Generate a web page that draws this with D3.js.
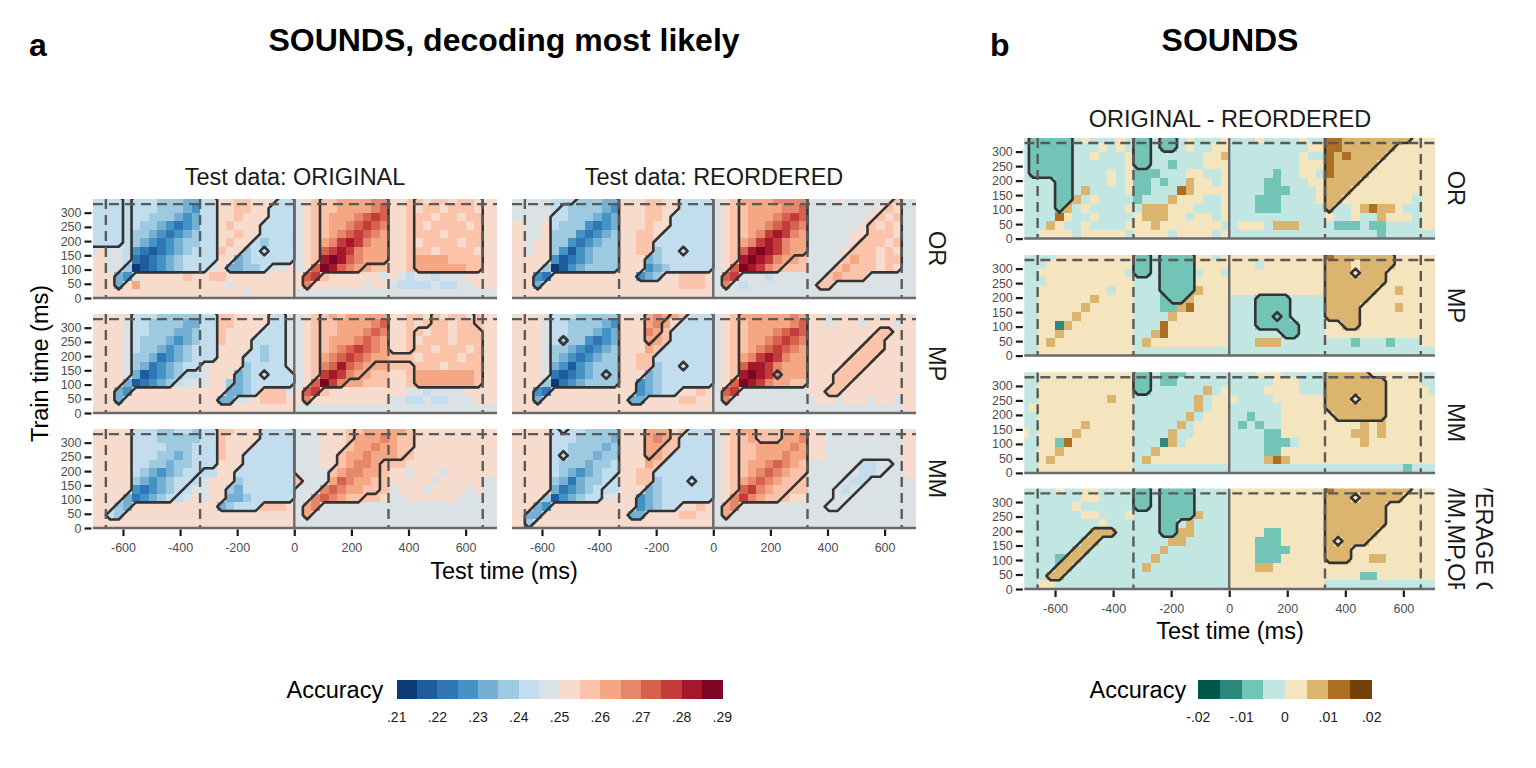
<!DOCTYPE html>
<html>
<head>
<meta charset="utf-8">
<title>SOUNDS, decoding most likely</title>
<script src="https://cdn.jsdelivr.net/npm/d3@7"></script>
<style>
  body { margin: 0; background: #fff; }
</style>
</head>
<body>
<div id="chart"></div>
<script>
(function(d3) {

// Temporal generalisation grids.
// Columns: 30 ms test-time bins from -720 ms; rows: 30 ms train-time bins,
// first string = 330-360 ms, last string = 0-30 ms.
// Letter = colour bin of the legend (a = lowest), capital = inside significance contour.
// "|" only splits pre | tone 1 | tone 2 | tone 3 | tone 4 | post for reading.
var gridStartMs = -720;
var gridTopMs = 360;
var binMs = 30;

var origOR = [
  "GG|GGgGGGFFFEE|GGiijjiiiGG|hijJJKKKKLL|iijJIJJIJJI|ii",
  "GG|GGgGGGFFFED|GGiijjiiGGG|hijJJKKKKLM|iijIJJIJJJI|ii",
  "GG|GGgGGFFFEDE|GGiijiiiGGG|hijJKKKLMNM|iijJJIJJIJJ|ii",
  "GG|GGgGFFEDCDE|GGijiiiGGGG|hijJKKLMNML|iijJIJJJJIJ|ii",
  "GG|GGgFFEDCDEF|GGiijiiGGGG|hijJKLMNMLK|iijJJJIJJJJ|ii",
  "GG|GGgFEDCDEFF|GGijiiGFGGG|hijKLNONLKK|iijIJJJJIJJ|ii",
  "hi|hhgDCBCDEFG|GGjiiFGgGGG|hijMNONLKKK|iijJJIJJJJI|ii",
  "ii|hhgCBCDEFGG|GGiiEFGGGGG|hijOPOMLKKK|iijKKKKJJJJ|ii",
  "ii|hhFABCDEFGG|GhiEEFFGhhi|hiMPOMLKkjj|iijKKKKKKJJ|ii",
  "ii|iEDhiiiiiji|ijjiiiiiiii|iMNjiiiiiih|ihghhghhhii|ii",
  "ii|iEikiiiiiii|iiihiiiiiii|iLiiiiiihii|hgggghgghhi|ii",
  "ii|iiiiiiiiiii|iiiiihiiiii|hhhhhhhhhhh|hhhhhhhhhhh|hh"
];
var origMP = [
  "ii|iihGGGFFFFF|GGjjiiiiGGh|hijJKJKKKKK|iijjiJIJJIj|ii",
  "ii|iihGGFFFFEE|GGjjiiiiGGh|hijJJKKKKLM|iijijJJIJJj|ii",
  "ii|iihGGFFFEEF|GGjiiiiGGGh|hijJJKKKLML|iijJIJJIJJJ|ii",
  "ii|iihGFFFEDEF|GGjiiiGGGGh|hijJKKKLMLK|iijIJJJIJJJ|ii",
  "ii|iihGFFEDEFG|GGiiiiGFGGh|hijJKLMNMLK|iijJJIJJJIJ|ii",
  "ii|iihFFECDEFG|GGiiiGGFGGh|hijKLMNMLKK|JJJIJJJJIJJ|ii",
  "ii|iihFECDEFGG|hiiiiFGGGGh|hijLMOMLKkk|jjjJJJIJJJJ|ii",
  "ii|iihEBCDEFgg|hiiiEFGgGGG|hijNONLKkjj|iijKKKKKKKJ|ii",
  "ii|iiEBCDEFghh|hiifEFGGGGG|hiMPNLkkjjj|iijKKKKKKKJ|ii",
  "ii|iEDiiiiiiii|iiiEEFGjjjh|iMNjiiiiiii|iihhghhhhii|ii",
  "ii|iEiiiiiiiii|iiEEhhijjji|iLiiiiiiiii|hhgghgghhhi|ii",
  "hi|iiiiiiiiiii|iiiiiiiiiii|hhhhhhhhhhh|hhhhhhhhhhh|hh"
];
var origMM = [
  "ii|iiiGGGFFGGF|GGjjiiiGGGG|hhhiiijJKKK|KKJiiiiiiii|ii",
  "ii|iiiGGGFFFFF|GGjiiiiGGGG|hhhiiijKKKL|KJJiiiiiiii|ii",
  "ii|iiiGGGGFFFG|GGjiiiGGGGG|hhhiiiJKKLK|KJJiiiiiiii|ii",
  "ii|iiiGGGFFEFG|GGjiiGGGGGG|hhhiiJKKLKK|KJjiiiiiiii|ii",
  "ii|iiiGGFFEFFG|GGiiiGGGGGG|hhhiiJKLLKj|jjiiiiiiiii|ii",
  "ii|iiiGFEDEFGG|ggiiGGGGGGG|hhhhJKLLKKj|iihiiihiiii|ii",
  "ii|iiiFEDEFGGg|hiiiFGGGGGG|JhhhKMLKKJj|iiiiihiiiii|hh",
  "ii|iiiDCDEFGgh|hiiFEGGGGGG|hhhLMLKKJJj|hiiihiiiihi|hh",
  "ii|iiECDEFGghi|hiiEEFGGGGG|hhLMLKJJjji|hhiiiiiihhh|hh",
  "ii|iFEiiiiiiii|iiEFGGGjjji|hKLhhhhhhhh|hhhhhhhhhhh|hh",
  "ii|GFiiiiiiiii|iiiiiiiiiii|hKhhhhhhhhh|hhhhhhhhhhh|hh",
  "ii|iiiiiiiiiii|iiiiiiiiiii|hhhhhhhhhhh|hhhhhhhhhhh|hh"
];
var reordOR = [
  "hh|hhhgggFFFEE|iiijjiiGGGG|hijKKKKLLLL|hhhihhhhhiJ|hh",
  "hh|hhhgGFFFFED|iiijjiiGGGG|hijJKKKKLLM|hhhhhhhhiJI|hh",
  "hh|hhhGGFFFEDE|iiijjiGGGGG|hijJKKKLMNM|hhhhhhhiJIJ|hh",
  "ii|hhiGFFFDCDE|iiijiiGGGGG|hijJKKLMNML|hhhhhhiJIJI|hh",
  "ii|hhiFFFDCDEF|iijjiGGGGGG|hijJKLNONLK|hhhhhiiJJJI|hh",
  "ii|hiiFFDCDEFF|iijjGGGGGGG|hijKLNONLKK|hhhhhiJJJIJ|hh",
  "ii|hiiFDBDEFFF|iijjFGGgGGG|hijMOPONLKK|hhhhiJJJIJI|hh",
  "ii|iiiDBCDEFFF|iiiEFGGGGGG|hijOPONLKkj|hhhhJKJJIJJ|hh",
  "ii|iiFABDEFFFF|iiiDEFGGGGG|hiMPONLKjjj|hhhJKJJJIJI|hh",
  "ii|iDCiiiiiiii|iiDEFiijjji|hMNhhhghhhh|hhJKJJJhhhh|hh",
  "ii|iEiiiiiiiii|iiiiiiijjji|hLhghhhhhhh|hJJhhhhhhhh|hh",
  "ii|iiiiiiiiiii|iiiiiiiiiii|hhhhhhhhhhh|hhhhhhhhhhh|hh"
];
var reordMP = [
  "hi|iihGGGFFFFF|iiiKLKkjGGG|hijKKKKKKLK|iihiiiiihii|ii",
  "ii|iihGGFFFFED|iiiKLkiGGGG|hijJKKKKKLM|iihiiihiiih|ii",
  "ii|iihGGFFFEDE|iiiLKjGGGGG|hijJKKKLMNM|iiiiiiiiJJi|ii",
  "ii|iihGfFFDCDE|iiiKkjGGGGG|hijJKKLMNML|iiiiiiiJJii|ii",
  "ii|iihFFEDCDEF|iiikjGGGGGG|hijJKLMNMLK|iiiiiiJJJii|ii",
  "ii|iihFEDCDEFF|iijjGGGGGGG|hijKLNONLKK|iiiiiJJJiii|ii",
  "ii|iihEDBDEFFF|iijjFGGgGGG|hijMOONLKKK|iiiiJJJiiii|ii",
  "ii|iihCBCDEFfF|iiiEFGGGGGG|hijOPONlKKK|iiiJJJiiiii|ii",
  "ii|iiFACDEFFFF|iiDEFGGGGGG|hiMPONLKKJJ|iiiJJiiiiii|ii",
  "ii|iDCiiiiiiii|iiDEFGGiiji|hMNhhhhhhhh|iiJJiiiiiii|ii",
  "ii|iEiiiiiiiii|iEEiiiijjii|hLhhhhhhhhh|hiihiiihiih|ii",
  "ii|iiiiiiiiiii|iiiiiiiiiii|hhhhhhhhhhh|hhhhhhhhhhh|ii"
];
var reordMM = [
  "ii|iiiGgGGFFFF|iiiKKKijGGG|hijKKjjjKKK|iihhhhhihhh|ii",
  "ii|iiiGGGFFFFE|iiiKLKjGGGG|hijJKjjjKKL|iihhhhhhhhh|ii",
  "ii|iiiGGFFFFEF|iiiKKjjGGGG|hijJJKKKKLK|iihhhhhhhhh|ii",
  "ii|iiiGgFFFEFF|iiiKkjGGGGG|hijJJKKKLKK|iihhhhhhhhh|ii",
  "ii|iiiGFFFEFFG|iiikjGGGGGG|hijJKKLMLKJ|hhhhhhGGHHh|ii",
  "ii|iiiGFEDEFGG|iijjGGGGGGG|hijJKLMLKJJ|hhhhhHGGHhh|ii",
  "ii|iiiFECEFFGg|iijjFGGGgGG|hijKLMLKJJj|hhhhHGGhhhh|hh",
  "ii|iiiECDEFGgg|iiiEFGGGGGG|hijMNLKJJjj|hhhHGHhhhhh|hh",
  "ii|iiFBDEFGGhi|iiDEFGGGGGG|hiLNLKJJjii|hhhHHhhhhhh|hh",
  "ii|iEDiiiiiiii|iiDEFGGiiji|hKLhhhhhhhh|hhHHhhhhhhh|hh",
  "ii|EEiiiiiiiii|iEEiiiijjii|hKhhhhhhhhh|hhhhhhhhhhh|hh",
  "ii|Fiiiiiiiiii|iiiiiiiiiii|hhhhhhhhhhh|hhhhhhhhhhh|hh"
];

// ORIGINAL - REORDERED
var diffOR = [
  "dC|CCCCdeddded|CCdCCdeddde|dddeddddedd|GGFFFFFFFFe|ee",
  "dC|CCCCdddeded|CCdCCdeddee|dddddddddee|GGFFFFFFeee|ee",
  "dC|CCCCddeddde|CCddddddeef|ddddddddedd|GFGFFFFeeee|ee",
  "dC|CCCCdddddde|CCddcdddeee|ddddddddeee|GFFFFFeeeee|ee",
  "dC|CCCCddddede|cccdddeedde|dddddcddeed|GFFFFeeeeee|ee",
  "dd|ddCCddddede|ccdcddfeede|ddddccdddee|FFFFeeeeeee|ee",
  "dd|ddCCdfdddde|ccdddgfeeee|ddddcccddde|FFFeeeeeeee|ee",
  "dd|ddCCfdedddd|cdddfeeedde|dddcccdddde|FFeeeeeeeed|ee",
  "dd|ddCfdedddde|dfffeeeddde|dddcccddddd|Fddefgffedd|ee",
  "dd|ddgeddedddd|efffeedeede|ddddddddddd|eddeddfeeed|ee",
  "dd|dfeddedddde|eefeeeeeeed|deeedfffddd|dcccdccdddd|ee",
  "dd|eeeedeeeeed|eeeedeeeede|ddddddddddd|ddddddcdddd|dd"
];
var diffMP = [
  "dd|ddeeeeeeeee|CCdCCCCeede|eeeeeeeeeee|GFFFFFFFeee|ee",
  "dd|deeeeeeeeee|CCdCCCCeeee|eeedeeeeeee|FFFEFFFFeee|ee",
  "dd|eeeeeeeeeed|CCdCCCCdeed|eeeeeeeeeee|FFFeFFFeeee|ee",
  "dd|deeeeeeeeee|dddCCCCeeee|eeeeeeeeeee|FFFFFFFeeee|ee",
  "dd|eeeeeeeedee|dddCCCCfeee|eeeeeeeeeee|FFFFFFeefee|ee",
  "dd|eeeeeefeeee|dddcCCfeeee|dddCCCCdddd|FFFFFeeeeee|ee",
  "dd|eeeeefeeeee|dddccfgeeee|dddCCCCdddd|FFFFeeeefee|ee",
  "dd|eeeefeeeeee|ddddfeeeeee|dddCCcCdddd|FFFFeeeeeee|ee",
  "dd|eebfeeeeeee|dddgeeeeeee|dddCCCCCddd|eeFFeeeeeee|ee",
  "dd|eefeeeeeeee|ddfgeeeeeee|ddddddCCddd|eeeeeeeeeee|ee",
  "dd|efeeeeeeeee|dfeeeeeeeee|dddfffddddd|dddcdddcddd|ee",
  "dd|eeeeeeeeeee|ddddddddddd|ddddddddddd|ddddddddddd|dd"
];
var diffMM = [
  "dd|eeeeeeeeeee|CCdcccddddd|dddeeeddddd|FFFFFeeeeee|dd",
  "dd|eeeeeeeeeee|CCdccdddddd|dddddeeeddd|FFFFFFFeeee|dd",
  "dd|eeeeeeeeeee|CCddddddfde|ddddeeeeddd|FFFFFFFeeee|ed",
  "dd|eeeeeeeefee|dddddddfdee|eddddeeeeee|FFFeFFFeeee|ee",
  "de|eeeeeeeeeee|dddddddfdee|ddddddeeeee|FFFFFFFeeee|ee",
  "dd|eeeeeeeeeee|ddddddfdeee|ddcdddeeeee|eFFFFFFeeee|ee",
  "dd|eeeeefeeeee|dddddfdeeee|dcdcddeeeee|eeeefefeeee|ee",
  "ed|eeeefeeeeee|ddddfddeeee|ddddcceeeee|eeeffefeeee|ee",
  "dd|eecgeeeeeee|dddbfdeeeee|ddddcccdeee|eeeefeeeeee|ee",
  "dd|eefeeeeeeee|ddfeeeeeeee|ddddcceeeee|eeeeeeeeeee|ee",
  "dd|efeeeeeeeee|dfeeeeeeeee|ddddfgfeeee|eeeeeeeeeee|ee",
  "dd|eeeeeeeeeee|ddddddddddd|ddddddddddd|dddddddddcd|dd"
];
var diffAVG = [
  "dd|ddeddeedddd|CCdCCCCdddd|eeeeeeeeeee|GFFFFFFFFFe|ee",
  "dd|dddddeedddd|CCdCCCCdddd|eeeeeeeeeee|FFFeFFFFFee|ee",
  "dd|ddddedddddd|CCdCCCCdddd|eeeeeeeeeee|FFFFFFFeeee|ee",
  "dd|dddddeeddde|dddCCCCfddd|eeeeeeeeeee|FFFFFFFeeee|ee",
  "dd|dddddddeddd|dddCCdfdddd|eeeeeeeeeee|FFFFFFFeeee|ee",
  "dd|ddddddFFFdd|dddCCffdddd|eeeecceeeee|FFFFFFeeeee|ee",
  "dd|dddddFFdddd|ddddffddddd|eeeccceeeee|FeFFFeeeeee|ee",
  "dd|ddddFFddddd|dddfddddddd|eeecccceeee|FFFeeeeeeee|ee",
  "dd|ddcFFdddddd|ddfdddddddd|eeeccceeeee|FFFeeffeeee|ee",
  "dd|ddFFddddddd|dfddddddddd|eeeffeeeeee|eeeeeeeeeee|ee",
  "dd|dFFdddddddd|ddddddddddd|eeeeeeeeeee|eeeecceeeee|ee",
  "dd|eeddddddddd|ddddddddddd|eeeeeeeeeee|ddddddddddd|dd"
];

var toneOnsets = [-660, -330, 330, 660];   // dashed lines; 0 is drawn solid
var toneLength = 330;
var xTicks = [-600, -400, -200, 0, 200, 400, 600];
var yTicks = [0, 50, 100, 150, 200, 250, 300];
var testDataLabels = ["Test data: ORIGINAL", "Test data: REORDERED"];
var rowLabelsA = ["OR", "MP", "MM"];
var rowLabelsB = ["OR", "MP", "MM", ["AVERAGE OF", "MM,MP,OR"]];
var accTicks = [.21, .22, .23, .24, .25, .26, .27, .28, .29];
var diffTicks = [-.02, -.01, 0, .01, .02];
var accColors = ["#0c3b73", "#1d5c9f", "#3076b5", "#4393c4", "#75b0d4", "#9dcae1",
                 "#c2ddee", "#dbe2e6", "#f7dbcd", "#fbc4aa", "#f5a683", "#e6866b",
                 "#d6614d", "#c33c3b", "#a5172a", "#7e0423"];
var diffColors = ["#01564a", "#2a887d", "#72c4b6", "#c2e6e1", "#f5e5bf", "#dbb46d", "#ad6f24", "#744009"];

var fontFamily = '"Liberation Sans", Arial, sans-serif';

var accFill = d3.scaleQuantize().domain([.21, .29]).range(accColors);
var diffFill = d3.scaleQuantize().domain([-.02, .02]).range(diffColors);

var svg = d3.select("#chart").append("svg")
  .attr("width", 1536).attr("height", 768)
  .attr("font-family", fontFamily)
  .style("display", "block");
var defs = svg.append("defs");
var clipCount = 0;

function decode(grid, fill) {
  var lo = fill.domain()[0], hi = fill.domain()[1];
  var step = (hi - lo) / fill.range().length;
  var rows = grid.map(function(s) { return s.replace(/\|/g, ""); });
  var nx = rows[0].length, ny = rows.length;
  var cells = [], mask = new Array(nx * ny).fill(0);
  rows.forEach(function(s, i) {
    s.split("").forEach(function(ch, j) {
      var lower = ch.toLowerCase();
      var bin = lower.charCodeAt(0) - 97;
      cells.push({ t0: gridStartMs + j * binMs, y0: gridTopMs - (i + 1) * binMs, value: lo + (bin + 0.5) * step });
      if (ch !== lower) mask[i * nx + j] = 1;
    });
  });
  return { cells: cells, mask: mask, nx: nx, ny: ny };
}

function styleAxis(ax) {
  ax.attr("font-family", fontFamily).attr("font-size", 12.5);
  ax.select(".domain").remove();
  ax.selectAll(".tick line").attr("stroke", "#1a1a1a").attr("stroke-width", 2.2);
  ax.selectAll(".tick text").attr("fill", "#4d4d4d");
}

function drawPanel(left, top, xs, ys, grid, fill, withXAxis, withYAxis) {
  var w = xs.range()[1], h = ys.range()[0];
  var id = "panelclip" + (clipCount++);
  defs.append("clipPath").attr("id", id).append("rect").attr("width", w).attr("height", h);

  var g = svg.append("g").attr("transform", "translate(" + left + "," + top + ")");
  var body = g.append("g").attr("clip-path", "url(#" + id + ")");
  var dec = decode(grid, fill);

  body.append("g").attr("shape-rendering", "crispEdges")
    .selectAll("rect").data(dec.cells).join("rect")
      .attr("x", function(d) { return xs(d.t0); })
      .attr("y", function(d) { return ys(d.y0 + binMs); })
      .attr("width", function(d) { return xs(d.t0 + binMs) - xs(d.t0) + 0.5; })
      .attr("height", function(d) { return ys(d.y0) - ys(d.y0 + binMs) + 0.5; })
      .attr("fill", function(d) { return fill(d.value); });

  // significance outlines
  var outlines = d3.contours().size([dec.nx, dec.ny]).thresholds([0.5])(dec.mask);
  var toPanel = d3.geoTransform({ point: function(x, y) {
    this.stream.point(xs(gridStartMs + x * binMs), ys(gridTopMs - y * binMs));
  }});
  body.selectAll("path.sig").data(outlines).join("path")
    .attr("class", "sig")
    .attr("d", d3.geoPath(toPanel))
    .attr("fill", "none")
    .attr("stroke", "#333")
    .attr("stroke-width", 2.6)
    .attr("stroke-linejoin", "round");

  // tone onsets
  body.selectAll("line.onset").data(toneOnsets).join("line")
    .attr("class", "onset")
    .attr("x1", function(d) { return xs(d); }).attr("x2", function(d) { return xs(d); })
    .attr("y1", 0).attr("y2", h)
    .attr("stroke", "#5a5a5a").attr("stroke-width", 2.4).attr("stroke-dasharray", "10,6");
  body.append("line")
    .attr("x1", 0).attr("x2", w).attr("y1", ys(toneLength)).attr("y2", ys(toneLength))
    .attr("stroke", "#5a5a5a").attr("stroke-width", 2.4).attr("stroke-dasharray", "10,6");
  body.append("line")
    .attr("x1", xs(0)).attr("x2", xs(0)).attr("y1", 0).attr("y2", h)
    .attr("stroke", "#6a6a6a").attr("stroke-width", 2.4);
  g.append("line")
    .attr("x1", 0).attr("x2", w).attr("y1", ys(0)).attr("y2", ys(0))
    .attr("stroke", "#6a6a6a").attr("stroke-width", 2.5);

  if (withYAxis) {
    var ya = g.append("g").attr("transform", "translate(-1.5,0)")
      .call(d3.axisLeft(ys).tickValues(yTicks).tickSize(7).tickPadding(3)
        .tickFormat(function(d) { return String(d); }));
    styleAxis(ya);
  }

  if (withXAxis) {
    var xa = g.append("g").attr("transform", "translate(0," + (h + 1.5) + ")")
      .call(d3.axisBottom(xs).tickValues(xTicks).tickSize(6.5).tickPadding(7)
        .tickFormat(function(d) { return String(d); }));
    styleAxis(xa);
  }
}

function rotatedLabel(x, y, txt, size, angle) {
  return svg.append("text")
    .attr("transform", "translate(" + x + "," + y + ") rotate(" + angle + ")")
    .attr("text-anchor", "middle")
    .attr("dy", "0.36em")
    .attr("font-size", size)
    .attr("fill", "#1a1a1a")
    .text(txt);
}

// ---------- a ----------
var aLeft = [93, 512], aTop = [199, 314, 429], aW = 404, aH = 99;
var xA = d3.scaleLinear().domain([-705, 710]).range([0, aW]);
var yA = d3.scaleLinear().domain([0, 348]).range([aH, 0]);
var gridsA = [[origOR, reordOR], [origMP, reordMP], [origMM, reordMM]];

gridsA.forEach(function(pair, r) {
  pair.forEach(function(grid, c) {
    drawPanel(aLeft[c], aTop[r], xA, yA, grid, accFill, r === gridsA.length - 1, c === 0);
  });
  rotatedLabel(937, aTop[r] + aH / 2, rowLabelsA[r], 23.5, 90);
});

testDataLabels.forEach(function(lbl, c) {
  svg.append("text").attr("x", aLeft[c] + aW / 2).attr("y", 185)
    .attr("text-anchor", "middle").attr("font-size", 23.5).attr("fill", "#1a1a1a").text(lbl);
});

svg.append("text").attr("x", 29).attr("y", 56).attr("font-size", 32).attr("font-weight", "bold").text("a");
svg.append("text").attr("x", 504).attr("y", 51).attr("text-anchor", "middle")
  .attr("font-size", 32).attr("font-weight", "bold").text("SOUNDS, decoding most likely");
svg.append("text").attr("x", 504).attr("y", 579).attr("text-anchor", "middle")
  .attr("font-size", 23.5).text("Test time (ms)");
rotatedLabel(40, 363.5, "Train time (ms)", 23.5, -90).attr("fill", "#000");

// ---------- b ----------
var bLeft = 1024.3, bTop = [138, 255, 372.3, 488.4], bW = 410.7, bH = 100.6;
var xB = d3.scaleLinear().domain([-706, 709]).range([0, bW]);
var yB = d3.scaleLinear().domain([0, 347]).range([bH, 0]);
var gridsB = [diffOR, diffMP, diffMM, diffAVG];

gridsB.forEach(function(grid, r) {
  drawPanel(bLeft, bTop[r], xB, yB, grid, diffFill, r === gridsB.length - 1, true);
  var lbl = rowLabelsB[r];
  if (Array.isArray(lbl)) {
    var cid = "stripclip" + r;
    defs.append("clipPath").attr("id", cid).append("rect")
      .attr("x", 1440).attr("y", bTop[r]).attr("width", 96).attr("height", bH);
    var g = svg.append("g").attr("clip-path", "url(#" + cid + ")");
    lbl.forEach(function(line, k) {
      g.append("text")
        .attr("transform", "translate(" + (1484.5 - k * 28.5) + "," + (bTop[r] + bH / 2) + ") rotate(90)")
        .attr("text-anchor", "middle").attr("dy", "0.36em")
        .attr("font-size", 23.5).attr("fill", "#1a1a1a").text(line);
    });
  } else {
    rotatedLabel(1456, bTop[r] + bH / 2, lbl, 23.5, 90);
  }
});

svg.append("text").attr("x", 990).attr("y", 56).attr("font-size", 32).attr("font-weight", "bold").text("b");
svg.append("text").attr("x", 1230).attr("y", 51).attr("text-anchor", "middle")
  .attr("font-size", 32).attr("font-weight", "bold").text("SOUNDS");
svg.append("text").attr("x", 1230).attr("y", 127).attr("text-anchor", "middle")
  .attr("font-size", 23.5).attr("fill", "#1a1a1a").text("ORIGINAL - REORDERED");
svg.append("text").attr("x", 1230).attr("y", 638.5).attr("text-anchor", "middle")
  .attr("font-size", 23.5).text("Test time (ms)");

// ---------- legends ----------
function legendLabel(v) {
  if (Math.abs(v) < 1e-9) return "0";
  return (v < 0 ? "-" : "") + Math.abs(v).toFixed(2).replace(/^0/, "");
}

function drawLegend(titleX, x0, x1, fill, ticks) {
  var lx = d3.scaleLinear().domain(fill.domain()).range([x0, x1]);
  var lg = svg.append("g");
  lg.append("text").attr("x", titleX).attr("y", 698).attr("font-size", 23.5).text("Accuracy");
  lg.append("g").attr("shape-rendering", "crispEdges")
    .selectAll("rect").data(fill.range()).join("rect")
      .attr("x", function(c) { return lx(fill.invertExtent(c)[0]); })
      .attr("y", 680)
      .attr("width", function(c) { var e = fill.invertExtent(c); return lx(e[1]) - lx(e[0]) + 0.4; })
      .attr("height", 18.5)
      .attr("fill", function(c) { return c; });
  lg.selectAll("text.lab").data(ticks).join("text")
    .attr("class", "lab")
    .attr("x", function(v) { return lx(v); })
    .attr("y", 722)
    .attr("text-anchor", "middle")
    .attr("font-size", 14)
    .attr("fill", "#1a1a1a")
    .text(legendLabel);
}

drawLegend(286.5, 396.7, 722.3, accFill, accTicks);
drawLegend(1089.5, 1198.3, 1371.7, diffFill, diffTicks);

})(window.d3);
</script>
</body>
</html>
